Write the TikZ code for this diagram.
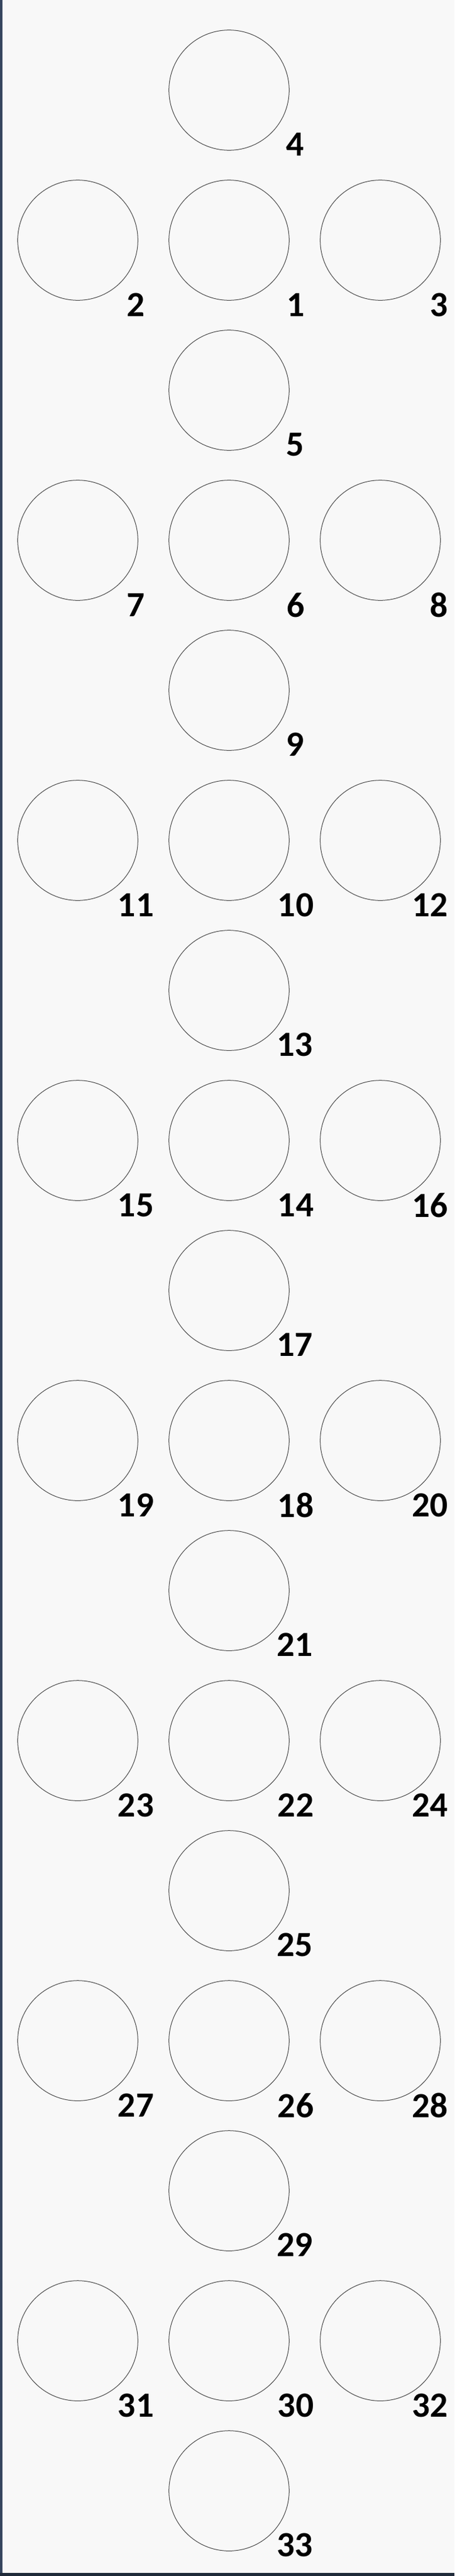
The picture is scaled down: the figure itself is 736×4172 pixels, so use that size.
\documentclass[tikz,border=0pt]{standalone}
\usepackage{fontspec}
\setmainfont{Carlito}
\usetikzlibrary{positioning}
\definecolor{bgpaper}{HTML}{F8F8F8}
\definecolor{edgeblue}{HTML}{36465F}
\definecolor{ringgray}{HTML}{4A4A4A}

\begin{document}
\begin{tikzpicture}[x=0.75pt,y=-0.75pt,
      ring/.style={circle,draw=ringgray,line width=0.75pt,minimum size=146pt,inner sep=0pt},
      num/.style={font=\bfseries\fontsize{43}{43}\selectfont,inner sep=0pt},
  ]
  % paper and edges
  \useasboundingbox (0,0) rectangle (736,4172);
  \fill[bgpaper] (0,0) rectangle (736,4172);
  \fill[edgeblue] (0,0) rectangle (4,4172);
  \fill[edgeblue!60!black] (0,4167) rectangle (736,4172);

  % rows with one circle
  \foreach \n/\k in {4/0,5/2,9/4,13/6,17/8,21/10,25/12,29/14,33/16}{
    \node[ring] (c\n) at (371,146+243*\k) {};
    \node[num, below right=66pt and 80pt of c\n.center, anchor=center] (l\n) {\n};
  }

  % rows with three circles
  \foreach \m/\l/\r/\k in {1/2/3/1,6/7/8/3,10/11/12/5,14/15/16/7,18/19/20/9,22/23/24/11,26/27/28/13,30/31/32/15}{
    \node[ring] (c\m) at (371,146+243*\k) {};
    \node[ring, left=37pt of c\m] (c\l) {};
    \node[ring, right=37pt of c\m] (c\r) {};
    \node[num, below right=78.75pt and 81pt of c\m.center, anchor=center] (l\m) {\m};
    \node[num, below right=78.75pt and 70.5pt of c\l.center, anchor=center] (l\l) {\l};
    \node[num, below right=78.75pt and 82.5pt of c\r.center, anchor=east] (l\r) {\r};
  }
\end{tikzpicture}
\end{document}
